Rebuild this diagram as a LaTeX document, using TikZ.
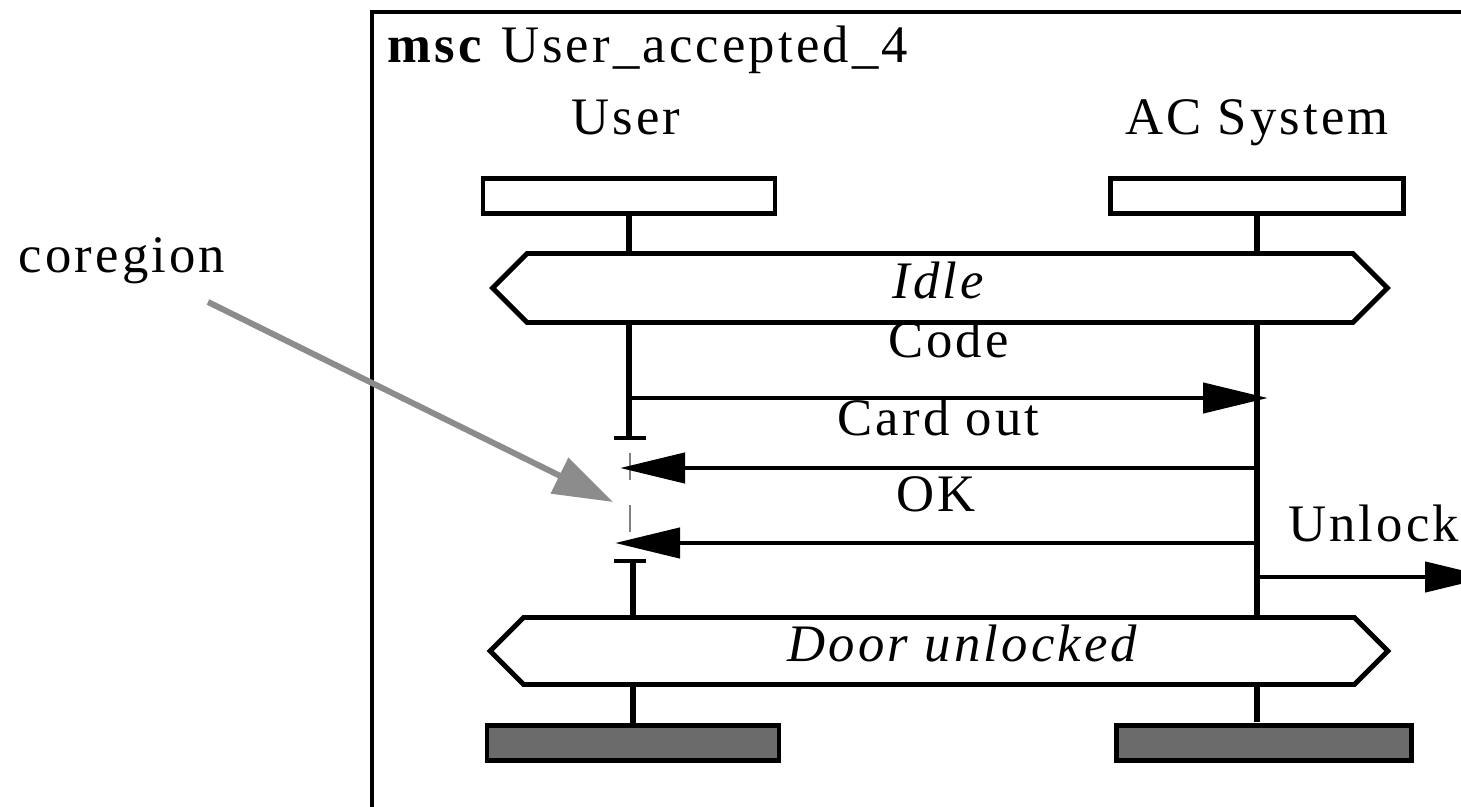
\documentclass[tikz,border=0pt]{standalone}
\usepackage{fontspec}
\setmainfont{Liberation Serif}[LetterSpace=6]
\usetikzlibrary{%
  arrows.meta,% wg. Triangle tips
  shapes.symbols% wg. signal (conditions)
}

\begin{document}
\begin{tikzpicture}[
  x=0.02cm, y=-0.02cm,
  font=\fontsize{30}{36}\selectfont,
  line width=2.8pt,
  >={Triangle[length=37pt,width=17pt]},
  instbox/.style={draw, rectangle, minimum width=5.84cm, minimum height=0.7cm, inner sep=0pt},
  instend/.style={instbox, fill=black!58},
  cond/.style={draw, signal, signal to=west and east, signal pointer angle=90,
    minimum width=17.9cm, minimum height=1.38cm, inner sep=0pt, text depth=9pt},
  lifeline/.style={line width=3.3pt},
  msg/.style={->},
  msglabel/.style={above=17pt, inner sep=0pt},
  coreline/.style={draw=black!50, line width=0.6pt, dash pattern=on 15.3pt off 14.2pt},
  pointer/.style={draw=black!45, line width=3.4pt, -{Triangle[length=34pt,width=22pt]}},
]
\clip (0,0) rectangle (1461,807);

% frame and heading
\draw (1480,12) -- (372,12) -- (372,830);
\node[anchor=base west, inner sep=0pt] (title) at (385,63) {\textbf{msc} User\_accepted\_4};

% instances
\node[anchor=base, inner sep=0pt] (uname) at (626,135) {User};
\node[anchor=base, inner sep=0pt] (aname) at (1257,135) {AC System};
\node[instbox] (uhead) at (629,196) {};
\node[instbox, minimum width=5.86cm] (ahead) at (1257,196) {};

% conditions
\node[cond] (idle) at (940,288) {\textit{Idle}};
\node[cond, minimum width=17.96cm, minimum height=1.34cm] (dunl) at (939,651) {\hspace*{1cm}\textit{Door unlocked}};

% coregion
\coordinate (cotop) at (630,438);
\coordinate (cobot) at (630,561);
\draw (cotop) ++(-16,0) -- ++(32,0);
\draw (cobot) ++(-16,0) -- ++(32,0);
\draw[coreline] (cotop) ++(0,15) -- ++(0,80);

% lifelines
\draw[lifeline] (uhead.south) -- (uhead.south |- idle.north);
\draw[lifeline] (uhead.south |- idle.south) -- (uhead.south |- cotop);
\node[instend] (uend) at (633,743) {};
\node[instend, minimum width=5.9cm] (aend) at (1264,743) {};
\draw[lifeline] (uend.north |- cobot) -- (uend.north |- dunl.north);
\draw[lifeline] (uend.north |- dunl.south) -- (uend.north);
\coordinate (astop) at (1257,722);
\draw[lifeline] (ahead.south) -- (ahead.south |- idle.north);
\draw[lifeline] (ahead.south |- idle.south) -- (ahead.south |- dunl.north);
\draw[lifeline] (ahead.south |- dunl.south) -- (astop);

% messages
\coordinate (codeu) at (629,398);
\coordinate (codea) at (1268,398);
\coordinate (carda) at (1257,468);
\coordinate (cardu) at (620,468);
\coordinate (oka) at (1257,543);
\coordinate (oku) at (615,543);
\coordinate (unla) at (1257,577);
\coordinate (unlx) at (1490,577);
\draw[msg] (codeu) -- node[msglabel, yshift=4.5pt] {Code} (codea);
\draw[msg] (carda) -- node[msglabel] {Card out} (cardu);
\draw[msg] (oka) -- node[msglabel, yshift=-1pt] {OK} (oku);
\draw[msg] (unla) -- node[msglabel, yshift=1.5pt] {Unlock} (unlx);

% comment symbol
\node[anchor=base, inner sep=0pt] (coreg) at (122,273) {coregion};
\coordinate (cstart) at (208,302);
\coordinate (cmark) at (613,502);
\draw[pointer] (cstart) -- (cmark);

\end{tikzpicture}
\end{document}
